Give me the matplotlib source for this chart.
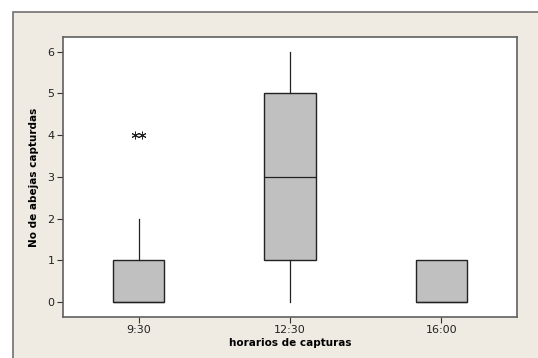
import matplotlib
matplotlib.use("Agg")
import matplotlib.pyplot as plt
import matplotlib.transforms as mtransforms
from matplotlib.patches import Rectangle

# datos (Minitab boxplot)
horarios = ["9:30", "12:30", "16:00"]
q1 = [0, 1, 0]
mediana = [0, 3, 0]
q3 = [1, 5, 1]
bigote_inf = [0, 0, 0]
bigote_sup = [2, 6, 1]
atipicos = [[4, 4], [], []]

plt.rcParams['font.family'] = ['DejaVu Sans']

fig = plt.figure(figsize=(5.38, 3.58), dpi=100, facecolor='white')

# marco beige de fondo
fig.patches.append(Rectangle((13 / 538, -0.05), 1.5, 1 - 12 / 358 + 0.05,
                             transform=fig.transFigure, facecolor='#efebe2',
                             edgecolor='#707070', linewidth=1.2, zorder=-10))

ax = fig.add_axes([63 / 538, 1 - 317 / 358, (517 - 63) / 538, (317 - 37) / 358])
ax.set_zorder(5)
ax.set_facecolor('white')

stats = []
for i in range(len(horarios)):
    stats.append({'med': mediana[i], 'q1': q1[i], 'q3': q3[i],
                  'whislo': bigote_inf[i], 'whishi': bigote_sup[i],
                  'fliers': [], 'label': horarios[i]})

ax.bxp(stats, positions=[1, 2, 3], widths=0.34, patch_artist=True,
       showcaps=False, showfliers=False,
       boxprops=dict(facecolor='#c0c0c0', edgecolor='#222222', linewidth=1.0),
       medianprops=dict(color='#222222', linewidth=0.9),
       whiskerprops=dict(color='#222222', linewidth=0.9))

# atipicos como asteriscos lado a lado
for i, vals in enumerate(atipicos):
    n = len(vals)
    for j, v in enumerate(vals):
        dx = (j - (n - 1) / 2) * 5 / 72
        tr = ax.transData + mtransforms.ScaledTranslation(dx, 0, fig.dpi_scale_trans)
        ax.plot(i + 1, v, marker=(6, 2, 0), markersize=5.5, color='#222222',
                markeredgewidth=0.7, transform=tr, linestyle='none')

ax.set_xlim(0.5, 3.5)
ax.set_ylim(-0.36, 6.35)
ax.set_yticks(range(0, 7))
ax.set_xticks([1, 2, 3])
ax.set_xticklabels(horarios)

for s in ax.spines.values():
    s.set_color('#606060')
    s.set_linewidth(1.2)

ax.tick_params(axis='both', direction='out', length=4, width=0.8, color='#333333',
               labelsize=8, labelcolor='#222222', pad=2)

ax.set_xlabel('horarios de capturas', fontsize=7.5, fontweight='bold', labelpad=2)
ax.set_ylabel('No de abejas capturdas', fontsize=7.5, fontweight='bold', labelpad=6)

fig.savefig('out.png', dpi=100, facecolor=fig.get_facecolor())
